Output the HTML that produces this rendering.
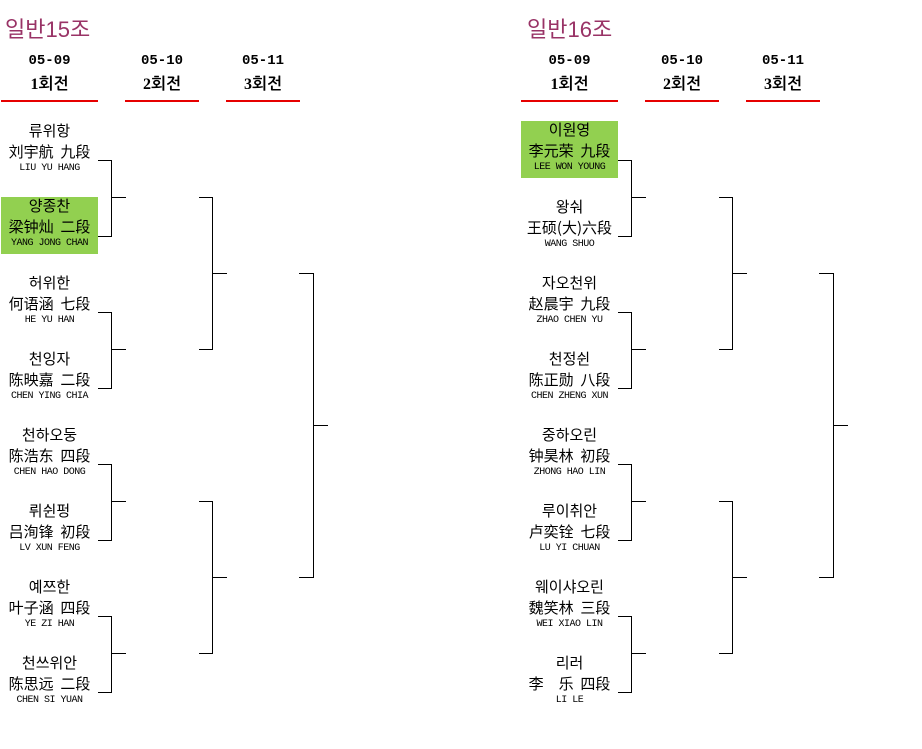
<!DOCTYPE html>
<html><head><meta charset="utf-8"><style>
body{margin:0;width:922px;height:749px;background:#fff;position:relative;overflow:hidden;font-family:"Liberation Sans","Noto Sans CJK KR",sans-serif;color:#000}
.a{position:absolute}
.t{font-size:22px;color:#993366;top:12px}
.d{font-size:14px;font-weight:bold;text-align:center;top:53px;font-family:"Liberation Mono","NanumGothic",monospace}
.r{font-size:16px;font-weight:bold;text-align:center;top:76px;font-family:"Liberation Serif","NanumGothic",serif}
.u{height:2px;background:#e60000;top:100px}
.p{width:97px;height:57px;text-align:center}
.p div{position:absolute;left:0;width:97px;text-align:center;white-space:pre}
.k{top:1px;font-size:15px;line-height:18px}
.c{top:21px;font-size:15px;line-height:18px;font-family:"Noto Sans CJK SC",sans-serif}
.e{top:41px;font-size:10px;line-height:12px;font-family:"Liberation Mono",monospace;letter-spacing:-0.5px}
.g{background:#92d050}
</style></head><body>
<div class="a t" style="left:5px">일반15조</div>
<div class="a t" style="left:527px">일반16조</div>

<div class="a d" style="left:1px;width:97px">05-09</div>
<div class="a d" style="left:125px;width:74px">05-10</div>
<div class="a d" style="left:226px;width:74px">05-11</div>
<div class="a r" style="left:1px;width:97px">1회전</div>
<div class="a r" style="left:125px;width:74px">2회전</div>
<div class="a r" style="left:226px;width:74px">3회전</div>
<div class="a u" style="left:1px;width:97px"></div>
<div class="a u" style="left:125px;width:74px"></div>
<div class="a u" style="left:226px;width:74px"></div>

<div class="a d" style="left:521px;width:97px">05-09</div>
<div class="a d" style="left:645px;width:74px">05-10</div>
<div class="a d" style="left:746px;width:74px">05-11</div>
<div class="a r" style="left:521px;width:97px">1회전</div>
<div class="a r" style="left:645px;width:74px">2회전</div>
<div class="a r" style="left:746px;width:74px">3회전</div>
<div class="a u" style="left:521px;width:97px"></div>
<div class="a u" style="left:645px;width:74px"></div>
<div class="a u" style="left:746px;width:74px"></div>

<div class="a p" style="left:1px;top:122px"><div class="k">류위항</div><div class="c">刘宇航  九段</div><div class="e">LIU YU HANG</div></div>
<div class="a p g" style="left:1px;top:197px"><div class="k">양종찬</div><div class="c">梁钟灿  二段</div><div class="e">YANG JONG CHAN</div></div>
<div class="a p" style="left:1px;top:274px"><div class="k">허위한</div><div class="c">何语涵  七段</div><div class="e">HE YU HAN</div></div>
<div class="a p" style="left:1px;top:350px"><div class="k">천잉자</div><div class="c">陈映嘉  二段</div><div class="e">CHEN YING CHIA</div></div>
<div class="a p" style="left:1px;top:426px"><div class="k">천하오둥</div><div class="c">陈浩东  四段</div><div class="e">CHEN HAO DONG</div></div>
<div class="a p" style="left:1px;top:502px"><div class="k">뤼쉰펑</div><div class="c">吕洵锋  初段</div><div class="e">LV XUN FENG</div></div>
<div class="a p" style="left:1px;top:578px"><div class="k">예쯔한</div><div class="c">叶子涵  四段</div><div class="e">YE ZI HAN</div></div>
<div class="a p" style="left:1px;top:654px"><div class="k">천쓰위안</div><div class="c">陈思远  二段</div><div class="e">CHEN SI YUAN</div></div>

<div class="a p g" style="left:521px;top:121px"><div class="k">이원영</div><div class="c">李元荣  九段</div><div class="e">LEE WON YOUNG</div></div>
<div class="a p" style="left:521px;top:198px"><div class="k">왕숴</div><div class="c">王硕(大)六段</div><div class="e">WANG SHUO</div></div>
<div class="a p" style="left:521px;top:274px"><div class="k">자오천위</div><div class="c">赵晨宇  九段</div><div class="e">ZHAO CHEN YU</div></div>
<div class="a p" style="left:521px;top:350px"><div class="k">천정쉰</div><div class="c">陈正勋  八段</div><div class="e">CHEN ZHENG XUN</div></div>
<div class="a p" style="left:521px;top:426px"><div class="k">중하오린</div><div class="c">钟昊林  初段</div><div class="e">ZHONG HAO LIN</div></div>
<div class="a p" style="left:521px;top:502px"><div class="k">루이취안</div><div class="c">卢奕铨  七段</div><div class="e">LU YI CHUAN</div></div>
<div class="a p" style="left:521px;top:578px"><div class="k">웨이샤오린</div><div class="c">魏笑林  三段</div><div class="e">WEI XIAO LIN</div></div>
<div class="a p" style="left:521px;top:654px"><div class="k">리러</div><div class="c">李　乐  四段</div><div class="e">LI LE</div></div>

<svg class="a" style="left:0;top:0" width="922" height="749">
<defs><g id="br" fill="none" stroke="#000" stroke-width="1">
<path d="M98 160.5H111.5V236.5H98M111.5 197.5H126"/>
<path d="M98 312.5H111.5V388.5H98M111.5 349.5H126"/>
<path d="M98 464.5H111.5V540.5H98M111.5 501.5H126"/>
<path d="M98 616.5H111.5V692.5H98M111.5 653.5H126"/>
<path d="M199 197.5H212.5V349.5H199M212.5 273.5H227"/>
<path d="M199 501.5H212.5V653.5H199M212.5 577.5H227"/>
<path d="M299 273.5H313.5V577.5H299M313.5 425.5H328"/>
</g></defs>
<use href="#br"/>
<use href="#br" x="520"/>
</svg>
</body></html>
